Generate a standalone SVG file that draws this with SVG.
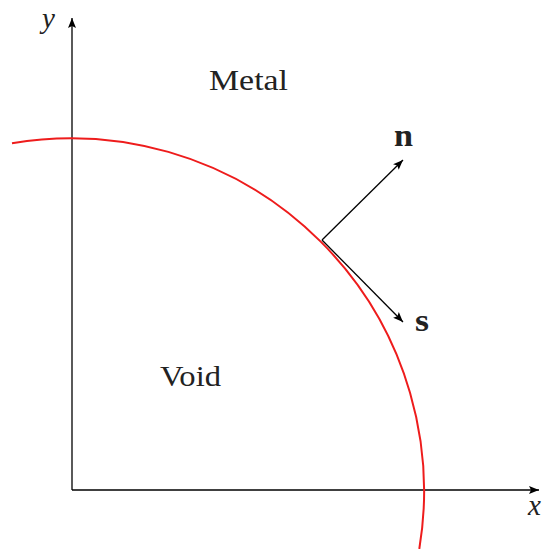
<svg xmlns="http://www.w3.org/2000/svg" width="542" height="549" viewBox="0 0 542 549">
<style>
.ax{stroke:#000;stroke-width:1.3;fill:none}
.vec{stroke:#000;stroke-width:1.3;fill:none}
.lbl{font-family:"Liberation Serif","DejaVu Serif",serif;fill:#222;font-size:29px}
.it{font-style:italic}
.bd{font-weight:bold;font-size:32px}
</style>
<defs>
<marker id="ah" viewBox="0 0 10 10" refX="10" refY="5" markerWidth="10" markerHeight="10" markerUnits="userSpaceOnUse" orient="auto">
<path d="M0,1 L10,5 L0,9 L2,5 Z" fill="#000"/>
</marker>
</defs>
<rect width="542" height="549" fill="#fff"/>
<g id="axes">
<line class="ax" x1="72" y1="490" x2="72" y2="18" marker-end="url(#ah)"/>
<line class="ax" x1="72" y1="490" x2="539" y2="490" marker-end="url(#ah)"/>
<text class="lbl it" x="42" y="28">y</text>
<text class="lbl it" x="528" y="515">x</text>
</g>
<g id="boundary">
<path d="M12,143.2 A353,353 0 0,1 419.3,549" fill="none" stroke="#ee1c1c" stroke-width="2"/>
</g>
<g id="connectors">
<line class="vec" x1="322" y1="240" x2="403" y2="160" marker-end="url(#ah)"/>
<line class="vec" x1="322" y1="240" x2="403" y2="322" marker-end="url(#ah)"/>
</g>
<g id="metal"><text class="lbl" x="209" y="90" textLength="79" lengthAdjust="spacingAndGlyphs">Metal</text></g>
<g id="void"><text class="lbl" x="160" y="386" textLength="61" lengthAdjust="spacingAndGlyphs">Void</text></g>
<g id="n"><text class="lbl bd" x="394" y="146" textLength="19" lengthAdjust="spacingAndGlyphs">n</text></g>
<g id="s"><text class="lbl bd" x="415" y="331" textLength="14" lengthAdjust="spacingAndGlyphs">s</text></g>
</svg>
